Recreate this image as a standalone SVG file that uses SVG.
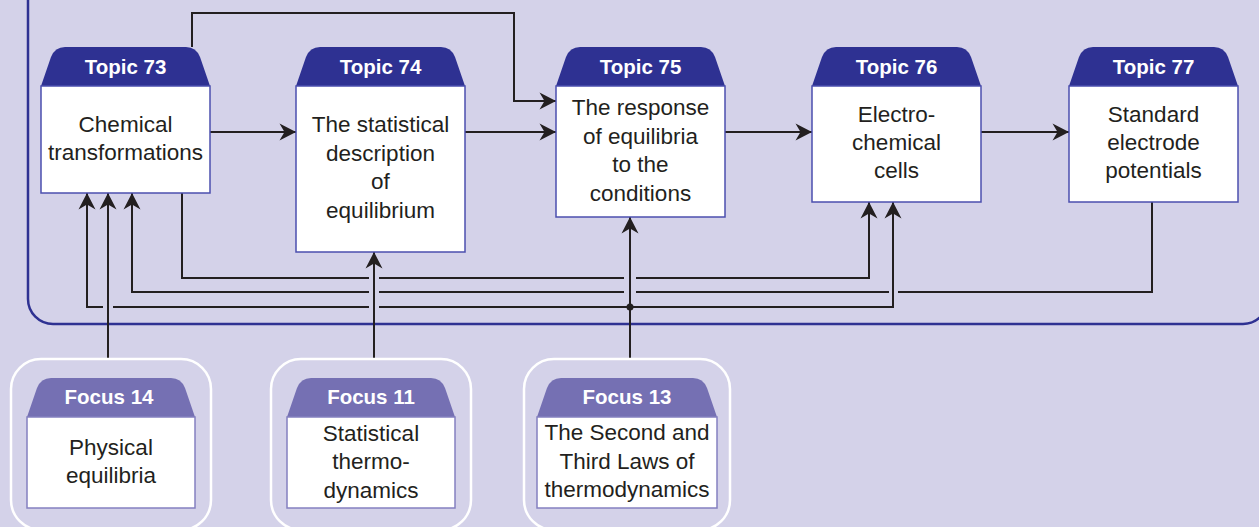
<svg xmlns="http://www.w3.org/2000/svg" width="1259" height="527" viewBox="0 0 1259 527">
  <defs>
    <style>
      .bg { fill: #d4d2e9; }
      .frame { fill: none; stroke: #2e3192; stroke-width: 2.5; }
      .focus-frame { fill: none; stroke: #ffffff; stroke-width: 2.5; }
      .topic-head { fill: #2e3192; }
      .topic-body { fill: #ffffff; stroke: #4b4fae; stroke-width: 1.5; }
      .focus-head { fill: #7570b3; }
      .focus-body { fill: #ffffff; stroke: #8480c0; stroke-width: 1.5; }
      .head-text { font-family: "Liberation Sans", Arial, sans-serif; font-weight: bold; font-size: 20.5px; fill: #ffffff; text-anchor: middle; }
      .body-text { font-family: "Liberation Sans", Arial, sans-serif; font-size: 22.5px; fill: #231f20; text-anchor: middle; }
      .link { fill: none; stroke: #231f20; stroke-width: 2; }
    </style>
    <marker id="arrow" viewBox="-17 -9 18 18" refX="0" refY="0" markerWidth="18" markerHeight="18" markerUnits="userSpaceOnUse" orient="auto">
      <path d="M0,0 L-16.5,-8.5 L-11.5,0 L-16.5,8.5 Z" fill="#231f20"/>
    </marker>
  </defs>

  <!-- background and topic panel -->
  <rect class="bg" x="0" y="0" width="1259" height="527"/>
  <rect class="frame" x="28" y="-40" width="1240" height="364" rx="25" ry="25"/>

  <!-- connectors -->
  <g id="connectors">
    <path class="link" marker-end="url(#arrow)" d="M210,132 H296"/>
    <path class="link" marker-end="url(#arrow)" d="M464,132 H556"/>
    <path class="link" marker-end="url(#arrow)" d="M724,132 H812"/>
    <path class="link" marker-end="url(#arrow)" d="M981,132 H1069"/>
    <path class="link" marker-end="url(#arrow)" d="M192,47 V13 H514 V101 H556"/>
    <!-- 73 -> 76 along the lower bus -->
    <path class="link" marker-end="url(#arrow)" d="M182,193 V278 H369 M379,278 H624 M636,278 H869 V202"/>
    <!-- 77 -> 73 -->
    <path class="link" marker-end="url(#arrow)" d="M1152,202 V292 H898 M889,292 H636 M624,292 H379 M369,292 H132 V193"/>
    <!-- Focus 13 -> 75 with branches to 73 and 76 -->
    <path class="link" marker-end="url(#arrow)" d="M630,359 V217"/>
    <path class="link" marker-end="url(#arrow)" d="M630,307 H379 M369,307 H113 M103,307 H87 V193"/>
    <path class="link" marker-end="url(#arrow)" d="M630,307 H893 V202"/>
    <circle cx="630" cy="307" r="3.5" fill="#231f20"/>
    <!-- focus sections feeding the topics -->
    <path class="link" marker-end="url(#arrow)" d="M108,359 V193"/>
    <path class="link" marker-end="url(#arrow)" d="M374,359 V252"/>
  </g>

  <!-- topics -->
  <g id="topic73">
    <path class="topic-head" d="M41,86 L51,57 Q55,47 65,47 H186 Q196,47 200,57 L210,86 Z"/>
    <rect class="topic-body" x="41" y="86" width="169" height="107"/>
    <text class="head-text" x="125.5" y="74">Topic 73</text>
    <text class="body-text" x="125.5" y="132">Chemical</text>
    <text class="body-text" x="125.5" y="160">transformations</text>
  </g>
  <g id="topic74">
    <path class="topic-head" d="M296,86 L306,57 Q310,47 320,47 H441 Q451,47 455,57 L465,86 Z"/>
    <rect class="topic-body" x="296" y="86" width="169" height="166"/>
    <text class="head-text" x="380.5" y="74">Topic 74</text>
    <text class="body-text" x="380.5" y="132">The statistical</text>
    <text class="body-text" x="380.5" y="161">description</text>
    <text class="body-text" x="380.5" y="189">of</text>
    <text class="body-text" x="380.5" y="218">equilibrium</text>
  </g>
  <g id="topic75">
    <path class="topic-head" d="M556,86 L566,57 Q570,47 580,47 H701 Q711,47 715,57 L725,86 Z"/>
    <rect class="topic-body" x="556" y="86" width="169" height="131"/>
    <text class="head-text" x="640.5" y="74">Topic 75</text>
    <text class="body-text" x="640.5" y="115">The response</text>
    <text class="body-text" x="640.5" y="143.5">of equilibria</text>
    <text class="body-text" x="640.5" y="172">to the</text>
    <text class="body-text" x="640.5" y="200.5">conditions</text>
  </g>
  <g id="topic76">
    <path class="topic-head" d="M812,86 L822,57 Q826,47 836,47 H957 Q967,47 971,57 L981,86 Z"/>
    <rect class="topic-body" x="812" y="86" width="169" height="116"/>
    <text class="head-text" x="896.5" y="74">Topic 76</text>
    <text class="body-text" x="896.5" y="122">Electro-</text>
    <text class="body-text" x="896.5" y="150">chemical</text>
    <text class="body-text" x="896.5" y="178">cells</text>
  </g>
  <g id="topic77">
    <path class="topic-head" d="M1069,86 L1079,57 Q1083,47 1093,47 H1214 Q1224,47 1228,57 L1238,86 Z"/>
    <rect class="topic-body" x="1069" y="86" width="169" height="116"/>
    <text class="head-text" x="1153.5" y="74">Topic 77</text>
    <text class="body-text" x="1153.5" y="122">Standard</text>
    <text class="body-text" x="1153.5" y="150">electrode</text>
    <text class="body-text" x="1153.5" y="178">potentials</text>
  </g>

  <!-- focus sections -->
  <g id="focus14">
    <rect class="focus-frame" x="11" y="359" width="200" height="171" rx="30" ry="30"/>
    <path class="focus-head" d="M27,417 L37,388 Q41,378 51,378 H171 Q181,378 185,388 L195,417 Z"/>
    <rect class="focus-body" x="27" y="417" width="168" height="91"/>
    <text class="head-text" x="109" y="404">Focus 14</text>
    <text class="body-text" x="111" y="455">Physical</text>
    <text class="body-text" x="111" y="483">equilibria</text>
  </g>
  <g id="focus11">
    <rect class="focus-frame" x="271" y="359" width="200" height="171" rx="30" ry="30"/>
    <path class="focus-head" d="M287,417 L297,388 Q301,378 311,378 H431 Q441,378 445,388 L455,417 Z"/>
    <rect class="focus-body" x="287" y="417" width="168" height="91"/>
    <text class="head-text" x="371" y="404">Focus 11</text>
    <text class="body-text" x="371" y="441">Statistical</text>
    <text class="body-text" x="371" y="469">thermo-</text>
    <text class="body-text" x="371" y="498">dynamics</text>
  </g>
  <g id="focus13">
    <rect class="focus-frame" x="524" y="359" width="206" height="171" rx="30" ry="30"/>
    <path class="focus-head" d="M537,417 L547,388 Q551,378 561,378 H693 Q703,378 707,388 L717,417 Z"/>
    <rect class="focus-body" x="537" y="417" width="180" height="91"/>
    <text class="head-text" x="627" y="404">Focus 13</text>
    <text class="body-text" x="627" y="440">The Second and</text>
    <text class="body-text" x="627" y="469">Third Laws of</text>
    <text class="body-text" x="627" y="497">thermodynamics</text>
  </g>
</svg>
